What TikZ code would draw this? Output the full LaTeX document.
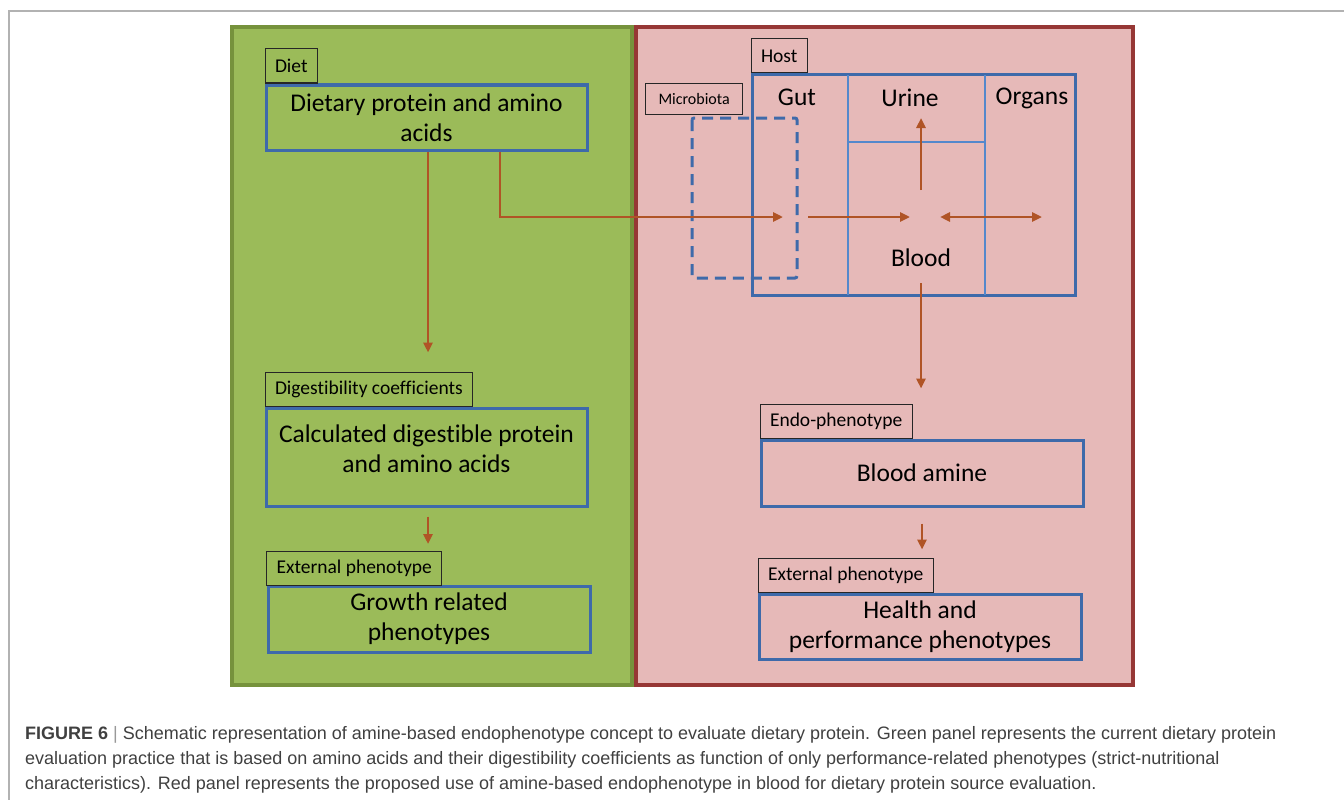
\documentclass[tikz,border=0pt]{standalone}
\usepackage{fontspec}
\setmainfont{Carlito}[Ligatures=NoCommon]
\newfontfamily\capfont{Liberation Sans}
\usetikzlibrary{arrows.meta,positioning}
\definecolor{panelgreen}{RGB}{155,187,89}
\definecolor{edgegreen}{RGB}{118,146,60}
\definecolor{panelred}{RGB}{230,185,184}
\definecolor{edgered}{RGB}{150,55,53}
\definecolor{boxblue}{RGB}{62,106,170}
\definecolor{gridblue}{RGB}{84,136,204}
\definecolor{flowbrown}{RGB}{176,84,38}
\definecolor{captext}{RGB}{64,64,64}

\begin{document}
\begin{tikzpicture}[x=1pt,y=-1pt,
    tag/.style={draw=black!85,line width=1pt,inner xsep=10pt,minimum height=34pt,font=\fontsize{19.5}{22}\selectfont},
    box/.style={draw=boxblue,line width=3pt,align=center,font=\fontsize{25.5}{30}\selectfont},
    flow/.style={draw=flowbrown,line width=2.8pt,-{Triangle[length=10pt,width=9pt]}},
    big/.style={font=\fontsize{25.5}{30}\selectfont}]
    \useasboundingbox (0,0) rectangle (1344,800);
    \draw[black!30,line width=1.5pt] (9,800) -- (9,11) -- (1344,11);
    \draw[edgegreen,fill=panelgreen,line width=3.5pt] (232,27) rectangle (632,685);
    \draw[edgered,fill=panelred,line width=3.5pt] (636,27) rectangle (1133,685);

    \node[box,minimum width=321pt,minimum height=65pt] (D) at (426.5,117.5) {Dietary protein and amino\\acids};
    \node[tag,anchor=south west] (Dl) at (D.north west) {Diet};
    \node[box,minimum width=321pt,minimum height=98pt,text depth=17pt] (C) at (426.5,457) {Calculated digestible protein\\and amino acids};
    \node[tag,anchor=south west] (Cl) at (C.north west) {Digestibility coefficients};
    \node[box,minimum width=322pt,minimum height=66pt] (G) at (429,619) {Growth related\\phenotypes};
    \node[tag,anchor=south west] (Gl) at (266,586) {External phenotype};
    \draw[flow,shorten >=19pt] ([xshift=1.5pt]D.south) -- ([xshift=1.5pt]D.south |- Cl.north);
    \draw[flow,shorten <=9pt,shorten >=7pt] ([xshift=1.5pt]C.south) -- ([xshift=1.5pt]C.south |- Gl.north);

    \node[draw=boxblue,line width=3pt,minimum width=323pt,minimum height=220pt] (H) at (913.5,185) {};
    \node[tag,anchor=south west] (Hl) at (H.north west) {Host};
    \draw[gridblue,line width=2.6pt] (848,75) -- (848,295) (985,75) -- (985,295) (848,142) -- (985,142);
    \node[big] (Gut) at (797,97) {Gut};
    \node[big] (U) at (910,98) {Urine};
    \node[big] (O) at (1032,98) {Organs};
    \node[big] (B) at (921,258) {Blood};
    \node[tag,anchor=north west,inner xsep=13pt,minimum height=31pt,font=\fontsize{16}{19}\selectfont] (M) at (645,83) {Microbiota};
    \draw[boxblue,line width=3pt,dash pattern=on 11pt off 7pt,rounded corners=2pt] (692,118) rectangle (797,278);

    \coordinate (gutin) at (783,217);
    \coordinate (gutout) at (808,217);
    \coordinate (bloodin) at (910,217);
    \coordinate (bloodout) at (940,217);
    \coordinate (organin) at (1042,217);
    \coordinate (bloodup) at (921,190);
    \coordinate (urinein) at (921,118);
    \draw[flow] ([xshift=73.5pt]D.south) |- (gutin);
    \draw[flow] (gutout) -- (bloodin);
    \draw[flow,{Triangle[length=10pt,width=9pt]}-{Triangle[length=10pt,width=9pt]}] (bloodout) -- (organin);
    \draw[flow] (bloodup) -- (urinein);

    \node[box,minimum width=322pt,minimum height=66pt] (A) at (922,473) {Blood amine};
    \node[tag,anchor=south west] (Al) at (A.north west) {Endo-phenotype};
    \node[box,minimum width=322pt,minimum height=65pt] (P) at (920,626.5) {Health and\\performance phenotypes};
    \node[tag,anchor=south west] (Pl) at (P.north west) {External phenotype};
    \draw[flow,shorten <=13pt,shorten >=15pt] (B.south) -- (B.south |- Al.north);
    \draw[flow,shorten <=16pt,shorten >=8pt] (A.south) -- (A.south |- Pl.north);

    \node[anchor=north west,align=left,inner sep=0pt,text=captext,font=\capfont\fontsize{18}{25}\selectfont] (cap) at (25,726)
      {{\bfseries FIGURE 6} {\color{black!40}|} Schematic representation of amine-based endophenotype concept to evaluate dietary protein. Green panel represents the current dietary protein\\
       evaluation practice that is based on amino acids and their digestibility coefficients as function of only performance-related phenotypes (strict-nutritional\\
       characteristics). Red panel represents the proposed use of amine-based endophenotype in blood for dietary protein source evaluation.};
\end{tikzpicture}
\end{document}
